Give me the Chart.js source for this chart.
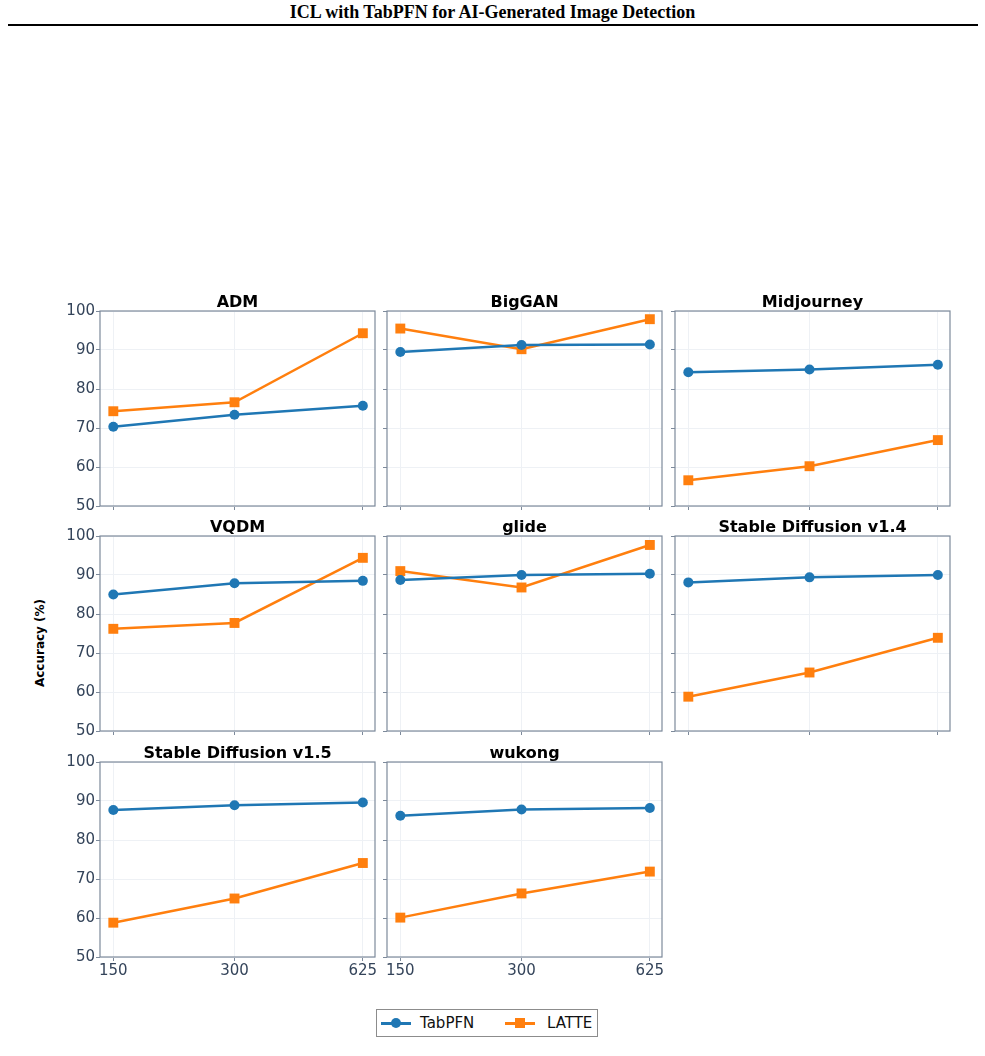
<!DOCTYPE html>
<html>
<head>
<meta charset="utf-8">
<script src="https://cdn.jsdelivr.net/npm/chart.js@4.4.1/dist/chart.umd.min.js"></script>
<style>
  body { margin: 0; background: #fff; width: 985px; height: 1056px; position: relative; overflow: hidden; }
  #head { position: absolute; left: 0; top: 2px; width: 985px; text-align: center;
          font-family: "Liberation Serif", "DejaVu Serif", serif; font-weight: bold; font-size: 18px; color: #000; }
  #rule { position: absolute; left: 8px; top: 24px; width: 970px; height: 2px; background: #000; }
  .panel { position: absolute; }
  #ylab { position: absolute; left: 40px; top: 643px; transform: translate(-50%, -50%) rotate(-90deg);
          font-family: "DejaVu Sans", sans-serif; font-weight: bold; font-size: 12px; color: #000; white-space: nowrap; }
  #legend { position: absolute; left: 376px; top: 1009px; width: 220px; height: 26px; border: 1px solid #8c8c8c;
            font-family: "DejaVu Sans", sans-serif; font-size: 15px; color: #111; }
  .item { position: absolute; top: 0; height: 26px; line-height: 26px; }
  .swatch { position: absolute; top: 12px; width: 30px; height: 2.5px; }
  .mk { position: absolute; }
</style>
</head>
<body>
<div id="head">ICL with TabPFN for AI-Generated Image Detection</div>
<div id="rule"></div>
<div id="ylab">Accuracy (%)</div>
<div id="legend">
  <div class="swatch" style="left:4px;background:#1f77b4"></div>
  <div class="mk" style="left:14px;top:8px;width:10px;height:10px;border-radius:50%;background:#1f77b4"></div>
  <div class="item" style="left:43px">TabPFN</div>
  <div class="swatch" style="left:128px;background:#ff7f0e"></div>
  <div class="mk" style="left:138px;top:8px;width:10px;height:10px;background:#ff7f0e"></div>
  <div class="item" style="left:170px">LATTE</div>
</div>
<script>
const sampleSizes = [150, 300, 625];
const yTicks = [50, 60, 70, 80, 90, 100];
const panelNames = ['ADM', 'BigGAN', 'Midjourney', 'VQDM', 'glide',
                    'Stable Diffusion v1.4', 'Stable Diffusion v1.5', 'wukong'];
const tabpfnAcc = [
  [70.3, 73.4, 75.7],
  [89.5, 91.3, 91.4],
  [84.3, 85.0, 86.2],
  [85.0, 87.9, 88.5],
  [88.7, 90.0, 90.3],
  [88.1, 89.4, 90.0],
  [87.7, 88.9, 89.6],
  [86.2, 87.8, 88.2]
];
const latteAcc = [
  [74.3, 76.6, 94.3],
  [95.5, 90.2, 97.9],
  [56.6, 60.2, 66.9],
  [76.2, 77.7, 94.4],
  [91.0, 86.8, 97.7],
  [58.8, 65.0, 73.9],
  [58.8, 65.0, 74.1],
  [60.1, 66.3, 71.9]
];

Chart.defaults.font.family = "'DejaVu Sans', sans-serif";
Chart.defaults.animation = false;

const axisGray = '#7d8a9b';
const gridGray = '#eef1f5';
const tickText = '#34445a';

// plot area layout
const colLeft = [100, 387, 675];
const rowTop = [311, 536, 762];
const plotW = 275, plotH = 195;
const yAxisW = 40, titleH = 22, xAxisH = 24, padR = 12;

// full box around each plot + title centred over the plot area
const framePlugin = {
  id: 'frame',
  beforeDatasetsDraw(chart, args, opts) {
    const a = chart.chartArea, ctx = chart.ctx;
    ctx.save();
    ctx.strokeStyle = axisGray;
    ctx.lineWidth = 1.2;
    ctx.strokeRect(a.left, a.top, a.right - a.left, a.bottom - a.top);
    ctx.fillStyle = '#000';
    ctx.font = "bold 16px 'DejaVu Sans', sans-serif";
    ctx.textAlign = 'center';
    ctx.textBaseline = 'alphabetic';
    ctx.fillText(opts.text, (a.left + a.right) / 2, a.top - 4);
    ctx.restore();
  }
};

panelNames.forEach((name, i) => {
  const row = Math.floor(i / 3), col = i % 3;
  const div = document.createElement('div');
  div.className = 'panel';
  div.style.left = (colLeft[col] - yAxisW) + 'px';
  div.style.top = (rowTop[row] - titleH) + 'px';
  div.style.width = (yAxisW + plotW + padR) + 'px';
  div.style.height = (titleH + plotH + xAxisH) + 'px';
  const canvas = document.createElement('canvas');
  div.appendChild(canvas);
  document.body.appendChild(div);

  const showX = row === 2;
  const showY = col === 0;

  new Chart(canvas, {
    type: 'line',
    data: {
      datasets: [{
        label: 'TabPFN',
        data: sampleSizes.map((s, k) => ({ x: s, y: tabpfnAcc[i][k] })),
        borderColor: '#1f77b4',
        backgroundColor: '#1f77b4',
        borderWidth: 2.5,
        pointStyle: 'circle',
        pointRadius: 5,
        pointBorderWidth: 0
      }, {
        label: 'LATTE',
        data: sampleSizes.map((s, k) => ({ x: s, y: latteAcc[i][k] })),
        borderColor: '#ff7f0e',
        backgroundColor: '#ff7f0e',
        borderWidth: 2.5,
        pointStyle: 'rect',
        pointRadius: 7,
        pointBorderWidth: 0
      }]
    },
    options: {
      responsive: true,
      maintainAspectRatio: false,
      layout: { padding: { left: 0, right: padR, top: titleH, bottom: 0 } },
      plugins: {
        legend: { display: false },
        tooltip: { enabled: false },
        title: { display: false },
        frame: { text: name }
      },
      scales: {
        x: {
          type: 'logarithmic',
          min: 139,
          max: 670,
          afterBuildTicks: s => { s.ticks = sampleSizes.map(v => ({ value: v })); },
          afterFit: s => { s.height = xAxisH; },
          grid: { color: gridGray, tickColor: axisGray, tickLength: 4, drawTicks: true },
          border: { display: false },
          ticks: {
            display: showX,
            color: tickText,
            font: { size: 15 },
            padding: 1,
            maxRotation: 0,
            autoSkip: false,
            callback: v => String(v)
          }
        },
        y: {
          min: 50,
          max: 100,
          afterBuildTicks: s => { s.ticks = yTicks.map(v => ({ value: v })); },
          afterFit: s => { s.width = yAxisW; },
          grid: { color: gridGray, tickColor: axisGray, tickLength: 4 },
          border: { display: false },
          ticks: {
            display: showY,
            color: tickText,
            font: { size: 15 },
            padding: 1
          }
        }
      }
    },
    plugins: [framePlugin]
  });
});
</script>
</body>
</html>
